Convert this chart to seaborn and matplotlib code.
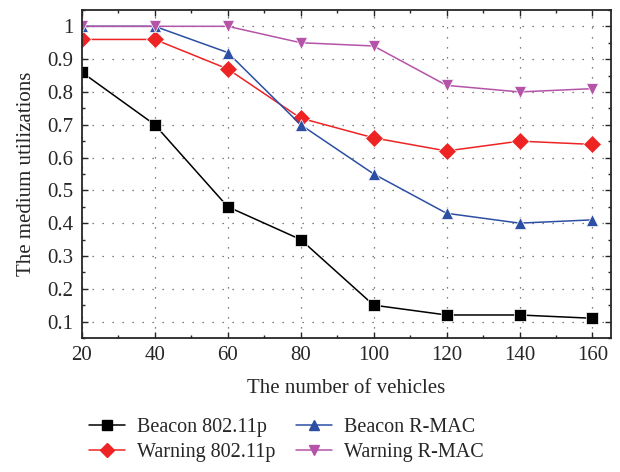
import matplotlib

matplotlib.use("Agg")
import matplotlib.pyplot as plt
import numpy as np
import pandas as pd
import seaborn as sns
from matplotlib.ticker import FormatStrFormatter, MultipleLocator

# data
vehicles = [20, 40, 60, 80, 100, 120, 140, 160]
beacon_80211p = [0.86, 0.70, 0.45, 0.35, 0.15, 0.12, 0.12, 0.11]
warning_80211p = [0.96, 0.96, 0.87, 0.72, 0.66, 0.62, 0.65, 0.64]
beacon_rmac = [1.00, 1.00, 0.92, 0.70, 0.55, 0.43, 0.40, 0.41]
warning_rmac = [1.00, 1.00, 1.00, 0.95, 0.94, 0.82, 0.80, 0.81]
series_names = ["Beacon 802.11p", "Warning 802.11p", "Beacon R-MAC", "Warning R-MAC"]

colors = {
    "Beacon 802.11p": "#000000",
    "Warning 802.11p": "#ee2424",
    "Beacon R-MAC": "#2c4fa3",
    "Warning R-MAC": "#b553a8",
}
markers = {
    "Beacon 802.11p": "s",
    "Warning 802.11p": "D",
    "Beacon R-MAC": "^",
    "Warning R-MAC": "v",
}

df = pd.DataFrame(
    {
        "vehicles": vehicles * 4,
        "util": beacon_80211p + warning_80211p + beacon_rmac + warning_rmac,
        "series": np.repeat(series_names, len(vehicles)),
    }
)

sns.set_style("ticks")
plt.rcParams["font.family"] = ["Liberation Serif", "DejaVu Serif"]

fig = plt.figure(figsize=(6.2, 4.72), dpi=100)
ax = fig.add_axes([0.132, 0.284, 0.853, 0.695])

sns.lineplot(
    data=df, x="vehicles", y="util", hue="series", style="series",
    palette=colors, markers=markers, dashes=False, hue_order=series_names,
    style_order=series_names, markersize=9, linewidth=1.1,
    markeredgewidth=0.5, ax=ax, legend=False,
)

ax.set_xlim(20, 165)
ax.set_ylim(0.05, 1.05)
ax.xaxis.set_major_locator(MultipleLocator(20))
ax.xaxis.set_minor_locator(MultipleLocator(10))
ax.yaxis.set_major_locator(MultipleLocator(0.1))
ax.yaxis.set_minor_locator(MultipleLocator(0.05))
ax.yaxis.set_major_formatter(FormatStrFormatter("%g"))
ax.tick_params(which="both", direction="in", top=True, right=True, labelsize=15)
ax.tick_params(which="major", length=4, width=1, pad=6)
ax.tick_params(which="minor", length=2.5, width=1)
ax.grid(True, which="major", color="#555555", linestyle=(0, (1, 7)), linewidth=0.9)
for sp in ax.spines.values():
    sp.set_linewidth(1.3)

ax.set_xlabel("The number of vehicles", fontsize=15, labelpad=10)
ax.set_ylabel("The medium utilizations", fontsize=15, labelpad=8)

handles = [
    plt.Line2D([], [], color=colors[n], marker=markers[n], markersize=7,
               linewidth=1.1, label=n)
    for n in series_names
]
fig.legend(
    handles=handles, loc="lower left", bbox_to_anchor=(0.13, 0.004),
    ncol=2, frameon=False, fontsize=14.5, handlelength=1.8, handletextpad=0.6,
    columnspacing=1.0, labelspacing=0.3, borderaxespad=0,
)

fig.savefig("out.png", dpi=100)
